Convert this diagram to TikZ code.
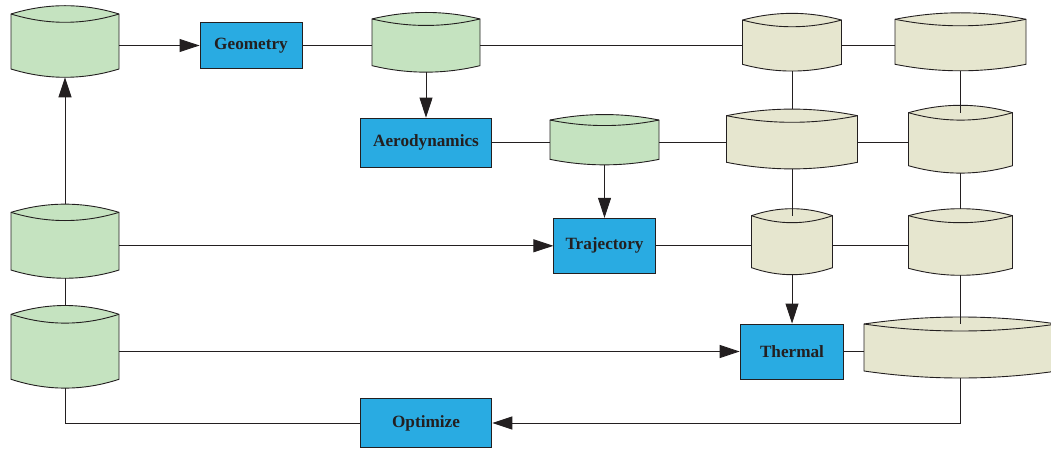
\documentclass[tikz,border=0pt]{standalone}
\usepackage{fontspec}
\setmainfont{Liberation Serif}
\usetikzlibrary{arrows.meta,calc}

\definecolor{ink}{HTML}{231F20}
\definecolor{greenfill}{HTML}{C5E3C0}
\definecolor{sandfill}{HTML}{E6E6CF}
\definecolor{bluefill}{HTML}{29ABE2}

\tikzset{
  link/.style={draw=ink, line width=0.9pt},
  flow/.style={link, -{Triangle[length=20pt,width=13pt]}},
  process/.style={draw=ink, line width=0.9pt, fill=bluefill, inner sep=0pt,
    font=\fontsize{17.2}{19}\selectfont\bfseries, text=ink},
  holder/.style={inner sep=0pt, outer sep=0pt},
}

% Data drum: #1 node name, #2 fill colour, #3 bulge of the curved edges.
% Each curved edge is a parabola (quadratic Bezier written as a cubic).
% The picture's y axis points down, so "up" is a negative y offset.
% Defines #1-t and #1-b at the top and bottom crests.
\newcommand\drumshape[3]{%
  \path[fill=#2, draw=ink, line width=0.9pt]
    (#1.north west)
      .. controls ($(#1.north west)!1/3!(#1.north east)+(0,-#3*4/3)$)
             and ($(#1.north west)!2/3!(#1.north east)+(0,-#3*4/3)$) .. (#1.north east)
    -- (#1.south east)
      .. controls ($(#1.south west)!2/3!(#1.south east)+(0,#3*4/3)$)
             and ($(#1.south west)!1/3!(#1.south east)+(0,#3*4/3)$) .. (#1.south west)
    -- cycle;
  \draw[ink, line width=0.9pt]
    (#1.north west)
      .. controls ($(#1.north west)!1/3!(#1.north east)+(0,#3*4/3)$)
             and ($(#1.north west)!2/3!(#1.north east)+(0,#3*4/3)$) .. (#1.north east);
  \coordinate (#1-t) at ($(#1.north)+(0,-#3)$);
  \coordinate (#1-b) at ($(#1.south)+(0,#3)$);
}

\begin{document}
\begin{tikzpicture}[x=1pt, y=-1pt]
\clip (0,0) rectangle (1051,449);

% drum placeholders (body between the corner points)
\node[holder, minimum width=108pt, minimum height=55pt]   (d1)  at (65,41.5)    {};
\node[holder, minimum width=108pt, minimum height=46.7pt] (d2)  at (426,42.3)   {};
\node[holder, minimum width=99pt,  minimum height=44.3pt] (d3)  at (792,42.2)   {};
\node[holder, minimum width=131pt, minimum height=45pt]   (d4)  at (960.5,41.8) {};
\node[holder, minimum width=109pt, minimum height=39.3pt] (d5)  at (604.5,139.7){};
\node[holder, minimum width=131pt, minimum height=46.6pt] (d6)  at (792,139)    {};
\node[holder, minimum width=104pt, minimum height=53pt]   (d7)  at (960.5,139.2){};
\node[holder, minimum width=108pt, minimum height=57.7pt] (d8)  at (65,241.2)   {};
\node[holder, minimum width=81pt,  minimum height=52pt]   (d10) at (792,241.7)  {};
\node[holder, minimum width=104pt, minimum height=52.6pt] (d11) at (960.5,242)  {};
\node[holder, minimum width=193pt, minimum height=47pt]   (d12) at (960.5,347.5){};
\node[holder, minimum width=108pt, minimum height=65pt]   (d9)  at (65,346.8)   {};

\drumshape{d1}{greenfill}{8.3}
\drumshape{d2}{greenfill}{6.5}
\drumshape{d3}{sandfill}{6.7}
\drumshape{d4}{sandfill}{6.5}
\drumshape{d5}{greenfill}{5.5}
\drumshape{d6}{sandfill}{6.6}
\drumshape{d7}{sandfill}{7.4}
\drumshape{d8}{greenfill}{8.2}
\drumshape{d10}{sandfill}{7}
\drumshape{d11}{sandfill}{7}
\drumshape{d12}{sandfill}{7}
\drumshape{d9}{greenfill}{8.8}

% process blocks
\node[process, minimum width=102pt,   minimum height=45.6pt] (geo)   at (251,45.5)    {Geometry};
\node[process, minimum width=131.7pt, minimum height=49.3pt] (aero)  at (426,142.7)   {Aerodynamics};
\node[process, minimum width=101.3pt, minimum height=55pt]   (traj)  at (604.5,245.8) {Trajectory};
\node[process, minimum width=103.7pt, minimum height=55pt]   (therm) at (792,351.5)   {Thermal};
\node[process, minimum width=131.7pt, minimum height=49.3pt] (opt)   at (426,423)     {Optimize};

% top row
\draw[flow] (d1.east |- geo.west) -- (geo.west);
\draw[link] (geo.east) -- (geo.east -| d2.west);
\draw[link] (d2.east |- geo.east) -- (geo.east -| d3.west);
\draw[link] (d3.east |- geo.east) -- (geo.east -| d4.west);
\draw[flow] (d2-b) -- (aero.north);

% second row
\draw[link] (aero.east) -- (aero.east -| d5.west);
\draw[link] (d5.east |- aero.east) -- (aero.east -| d6.west);
\draw[link] (d6.east |- aero.east) -- (aero.east -| d7.west);
\draw[link] (d3-b) -- (d6-t);
\draw[link] (d4-b) -- (d7.north);
\draw[flow] (d5-b) -- (traj.north);

% third row
\draw[flow] (d8.east |- traj.west) -- (traj.west);
\draw[link] (traj.east) -- (traj.east -| d10.west);
\draw[link] (d10.east |- traj.east) -- (traj.east -| d11.west);
\draw[link] (d6-b) -- (d10.north);
\draw[link] (d7-b) -- (d11-t);
\draw[flow] (d10-b) -- (therm.north);

% left column
\draw[flow] (d8-t) -- (d1-b);
\draw[link] (d8-b) -- (d9-t);

% fourth row
\draw[flow] (d9.east |- therm.west) -- (therm.west);
\draw[link] (therm.east) -- (d12.west |- therm.east);
\draw[link] (d11-b) -- (d12.north);

% return loop through the optimizer
\draw[link] (d9-b) -- (d9-b |- opt.west) -- (opt.west);
\draw[flow] (d12-b) -- (d12-b |- opt.east) -- (opt.east);
\end{tikzpicture}
\end{document}
